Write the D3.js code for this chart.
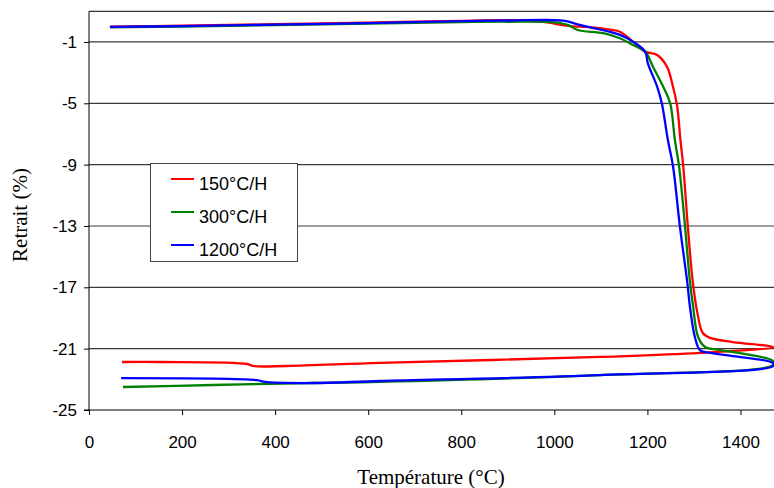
<!DOCTYPE html>
<html><head><meta charset="utf-8">
<script src="https://cdn.jsdelivr.net/npm/d3@7"></script>
<style>body{margin:0;background:#fff}svg{display:block}</style>
</head><body>
<svg id="c" width="774" height="488"></svg>
<script>
const xTicks = [0,200,400,600,800,1000,1200,1400];
const yTicks = [-1,-5,-9,-13,-17,-21,-25];
const seriesNames = ["150°C/H","300°C/H","1200°C/H"];
const seriesColors = ["#ff0000","#008000","#0000ff"];

// [temperature, shrinkage %] heating then cooling
const red150 = [[45,0.0],[200,0.06],[400,0.16],[600,0.26],[800,0.38],[900,0.42],[960,0.38],[1000,0.2],[1030,0.05],[1080,-0.05],[1120,-0.2],[1141,-0.33],[1169,-0.98],[1195,-1.63],[1221,-1.85],[1242,-2.61],[1255,-3.92],[1264,-5.2],[1271,-7.39],[1277,-9.09],[1287,-13.07],[1297,-16.5],[1307,-18.6],[1319,-19.98],[1335,-20.3],[1384,-20.57],[1470,-20.89],[1313,-21.28],[1098,-21.54],[625,-21.93],[425,-22.13],[352,-22.13],[340,-22.0],[153,-21.87],[71,-21.87]];
const green300 = [[45,-0.04],[200,0.0],[400,0.1],[600,0.2],[800,0.3],[900,0.32],[1000,0.28],[1030,0.1],[1050,-0.22],[1105,-0.43],[1141,-0.76],[1169,-1.2],[1195,-1.63],[1212,-2.61],[1234,-3.92],[1249,-5],[1259,-7.39],[1268,-9.09],[1281,-13.07],[1291,-16.5],[1298,-18.2],[1309,-20.24],[1324,-20.89],[1356,-21.09],[1421,-21.41],[1470,-21.8],[1470,-22.07],[1098,-22.72],[625,-23.17],[481,-23.24],[266,-23.37],[73,-23.5]];
const blue1200 = [[45,-0.02],[200,0.03],[400,0.13],[600,0.23],[800,0.36],[900,0.4],[1019,0.39],[1048,0.17],[1070,0.0],[1141,-0.54],[1169,-0.98],[1195,-1.63],[1201,-2.39],[1221,-3.92],[1231,-5],[1244,-7.39],[1255,-9.09],[1270,-13.07],[1285,-16.5],[1292,-18.4],[1302,-20.24],[1313,-21.09],[1335,-21.28],[1384,-21.48],[1470,-21.94],[1470,-22.13],[1098,-22.72],[625,-23.11],[481,-23.24],[378,-23.17],[361,-23.05],[69,-22.92]];
const series = [red150, green300, blue1200];

const svg = d3.select("#c");
const x = d3.scaleLinear().domain([0,1500]).range([89,787]);
const y = d3.scaleLinear().domain([-25,1]).range([410,11.3]);

svg.append("defs").append("clipPath").attr("id","clip")
  .append("rect").attr("x",89).attr("y",11).attr("width",700).attr("height",400);

// gridlines
svg.append("g").selectAll("line").data(yTicks.filter(d=>d!==-25)).join("line")
  .attr("x1",89).attr("x2",774).attr("y1",d=>y(d)).attr("y2",d=>y(d))
  .attr("stroke","#3a3a3a").attr("stroke-width",1.2);
// top border
svg.append("line").attr("x1",89).attr("x2",774).attr("y1",y(1)).attr("y2",y(1))
  .attr("stroke","#000").attr("stroke-width",1);

// axes
const yAxis = d3.axisLeft(y).tickValues(yTicks).tickSize(5).tickPadding(7).tickFormat(d=>d);
const gy = svg.append("g").attr("transform","translate(89,0)").call(yAxis);
gy.select(".domain").attr("d","M0,"+y(1)+"V"+y(-25)).attr("stroke","#000");
const xAxis = d3.axisBottom(x).tickValues(xTicks).tickSize(5).tickPadding(21).tickFormat(d=>d);
const gx = svg.append("g").attr("transform","translate(0,410)").call(xAxis);
gx.select(".domain").attr("d","M84,0H774").attr("stroke","#000");
svg.selectAll(".tick text").attr("font-family","Liberation Sans, Arial, sans-serif").attr("font-size",17).attr("fill","#000");
svg.selectAll(".tick line").attr("stroke","#000");

// lines
const line = d3.line().x(d=>x(d[0])).y(d=>y(d[1])).curve(d3.curveCatmullRom.alpha(0.5));
svg.append("g").attr("clip-path","url(#clip)").selectAll("path").data(series).join("path")
  .attr("d",line).attr("fill","none").attr("stroke",(d,i)=>seriesColors[i])
  .attr("stroke-width",2.3).attr("stroke-linejoin","round");

// titles
svg.append("text").attr("x",431).attr("y",484).attr("text-anchor","middle")
  .attr("font-family","Liberation Serif, Times New Roman, serif").attr("font-size",21).text("Température (°C)");
svg.append("text").attr("transform","translate(27,215) rotate(-90)").attr("text-anchor","middle")
  .attr("font-family","Liberation Serif, Times New Roman, serif").attr("font-size",21).text("Retrait (%)");

// legend
const lg = svg.append("g");
lg.append("rect").attr("x",150.5).attr("y",163.5).attr("width",147).attr("height",98)
  .attr("fill","#fff").attr("stroke","#444").attr("stroke-width",1);
seriesNames.forEach((n,i)=>{
  const yy = 179 + i*33;
  lg.append("line").attr("x1",171).attr("x2",194).attr("y1",yy).attr("y2",yy)
    .attr("stroke",seriesColors[i]).attr("stroke-width",2);
  lg.append("text").attr("x",199).attr("y",yy+11).attr("font-family","Liberation Sans, Arial, sans-serif")
    .attr("font-size",18).text(n);
});
</script>
</body></html>
